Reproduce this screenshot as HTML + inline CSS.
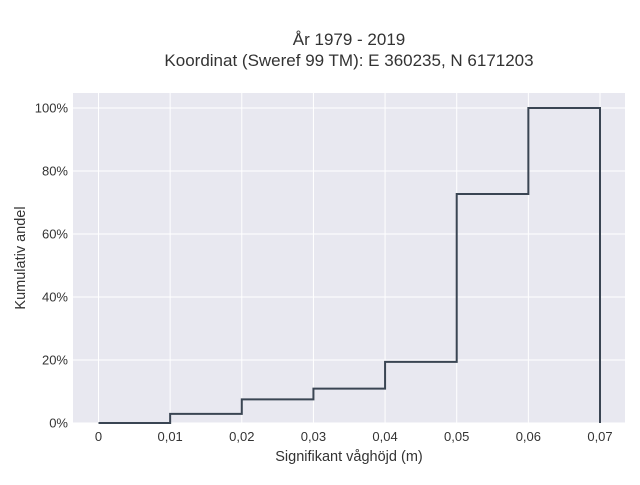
<!DOCTYPE html>
<html><head><meta charset="utf-8"><style>
body{margin:0;background:#fff;font-family:"Liberation Sans",sans-serif}
svg text{font-family:"Liberation Sans",sans-serif;fill:#333}
</style></head><body>
<svg width="640" height="480">
<rect x="73" y="93" width="552" height="330" fill="#e8e8f0"/>
<g id="grid"></g>
<path id="line" fill="none" stroke="#3a4553" stroke-width="2"/>
<g id="ticks"></g>
<text x="349" y="45" text-anchor="middle" font-size="17">År 1979 - 2019</text>
<text x="349" y="66" text-anchor="middle" font-size="17">Koordinat (Sweref 99 TM): E 360235, N 6171203</text>
<text x="349" y="461" text-anchor="middle" font-size="14.5">Signifikant våghöjd (m)</text>
<text transform="translate(25,258) rotate(-90)" text-anchor="middle" font-size="14.5">Kumulativ andel</text>
</svg>
<script>
const binEdges=[0,0.01,0.02,0.03,0.04,0.05,0.06,0.07];
const cumValues=[0,2.9,7.5,10.9,19.4,72.7,100];
const xTicks=[0,0.01,0.02,0.03,0.04,0.05,0.06,0.07];
const xTickLabels=["0","0,01","0,02","0,03","0,04","0,05","0,06","0,07"];
const yTicks=[0,20,40,60,80,100];
const yTickLabels=["0%","20%","40%","60%","80%","100%"];
const ns="http://www.w3.org/2000/svg";
const X=v=>98.5+v/0.07*501.5;
const Y=v=>423-v*3.15;
const grid=document.getElementById('grid'),ticks=document.getElementById('ticks');
function mk(tag,attrs,parent,txt){const e=document.createElementNS(ns,tag);for(const k in attrs)e.setAttribute(k,attrs[k]);if(txt!==undefined)e.textContent=txt;parent.appendChild(e);return e;}
xTicks.forEach((t,i)=>{
 const l=mk('line',{x1:X(t),x2:X(t),y1:93,y2:423,stroke:'#fff','stroke-width':1},grid);
 
 
 const tx=mk('text',{x:X(t),y:441,'text-anchor':'middle','font-size':13},ticks,xTickLabels[i]);
 
 
});
yTicks.forEach((t,i)=>{
 const l=mk('line',{x1:73,x2:625,y1:Y(t),y2:Y(t),stroke:'#fff','stroke-width':1},grid);
 
 
 const tx=mk('text',{x:68,y:Y(t)+4.5,'text-anchor':'end','font-size':13},ticks,yTickLabels[i]);
 
 
});
let d='M'+X(binEdges[0])+','+Y(cumValues[0]);
cumValues.forEach((v,i)=>{d+=' L'+X(binEdges[i])+','+Y(v)+' L'+X(binEdges[i+1])+','+Y(v);});
d+=' L'+X(binEdges[binEdges.length-1])+','+Y(0);
document.getElementById('line').setAttribute('d',d);
</script>
</body></html>
